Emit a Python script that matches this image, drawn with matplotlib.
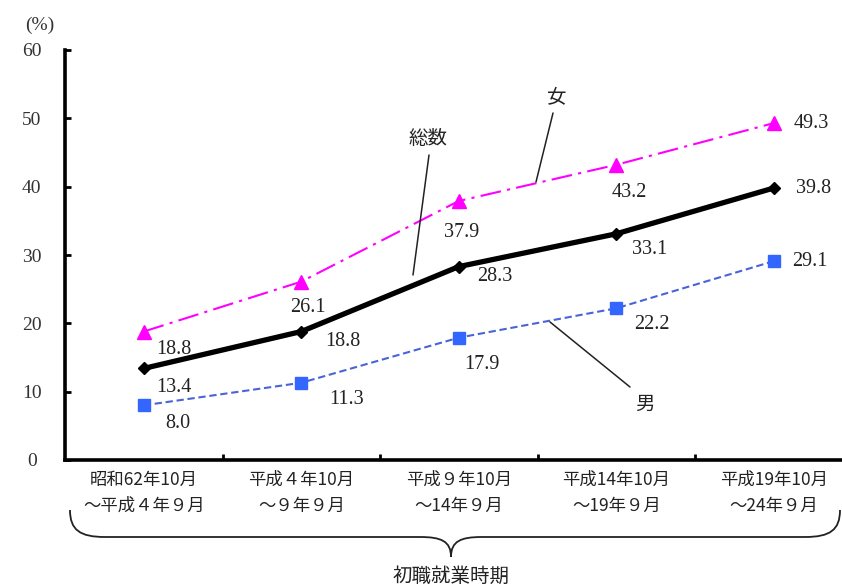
import matplotlib
matplotlib.use("Agg")
import matplotlib.pyplot as plt
from matplotlib.path import Path
from matplotlib.patches import PathPatch

plt.rcParams['font.family'] = ['Noto Sans CJK JP', 'DejaVu Sans']

# ---- data ----
categories = ["昭和62年10月\n～平成４年９月", "平成４年10月\n～９年９月", "平成９年10月\n～14年９月",
              "平成14年10月\n～19年９月", "平成19年10月\n～24年９月"]
total = [13.4, 18.8, 28.3, 33.1, 39.8]
female = [18.8, 26.1, 37.9, 43.2, 49.3]
male = [8.0, 11.3, 17.9, 22.2, 29.1]
yticks = [0, 10, 20, 30, 40, 50, 60]
xlabel = "初職就業時期"
series_names = ["総数", "女", "男"]

# label offsets in pixels (dx, dy)
off_female = [(30, -18), (7, -26), (3, -31), (13, -28), (38, 0)]
off_total = [(30, -19), (42, -10), (36, -10), (33, -16), (40, 0)]
off_male = [(34, -18), (45, -17), (23, -27), (36, -16), (36, 0)]

W, H = 842, 587
fig = plt.figure(figsize=(W / 100, H / 100), dpi=100)
left_px, right_px, top_px, bot_px = 65, 852.5, 50, 460
ax = fig.add_axes([left_px / W, 1 - bot_px / H, (right_px - left_px) / W, (bot_px - top_px) / H])

x = list(range(len(categories)))
serif = ['Liberation Serif', 'DejaVu Serif']
num_font = dict(family=serif, fontsize=14.5, color='#222222')

ax.plot(x, female, color='#FF00FF', lw=1.5, dashes=[10, 3, 1.5, 3], marker='^', ms=10,
        markeredgecolor='#FF00FF', markerfacecolor='#FF00FF', zorder=3)
ax.plot(x, total, color='black', lw=3.8, marker='D', ms=6, zorder=4)
ax.plot(x, male, color='#4A63D8', lw=1.5, dashes=[3.5, 1.8], marker='s', ms=9,
        markerfacecolor='#3366FF', markeredgecolor='#3366FF', zorder=3)

for vals, offs in ((female, off_female), (total, off_total), (male, off_male)):
    for xi, v, (dx, dy) in zip(x, vals, offs):
        ax.annotate(f"{v:.1f}", (xi, v), xytext=(dx, dy), textcoords='offset pixels',
                    ha='center', va='center', **num_font)

ax.set_xlim(-0.5, len(categories) - 0.5)
ax.set_ylim(0, 60)
ax.set_yticks(yticks)
ax.set_yticklabels([str(t) for t in yticks], family=serif, fontsize=14, color='#333333')
ax.set_xticks(x)
ax.set_xticklabels(categories, fontsize=12.5, linespacing=1.55, color='#222222')
ax.set_xticks([i + 0.5 for i in x[:-1]], minor=True)
ax.tick_params(axis='x', which='major', length=0, pad=8)
ax.tick_params(axis='x', which='minor', direction='in', length=4, width=2)
ax.tick_params(axis='y', direction='in', length=4, width=2, pad=24)
for lbl in ax.get_yticklabels():
    lbl.set_horizontalalignment('center')

for s in ('top', 'right'):
    ax.spines[s].set_visible(False)
for s in ('left', 'bottom'):
    ax.spines[s].set_linewidth(2.6)
    ax.spines[s].set_color('black')

# series name call-outs
def px2data(px, py):
    return ((px - left_px) / 157.5 - 0.5, (bot_px - py) / (bot_px - top_px) * 60)

callouts = [(series_names[0], (428, 138), (429, 155), (413, 275)),
            (series_names[1], (557, 97), (553, 113), (536, 182)),
            (series_names[2], (645, 404), (630, 387), (550, 322))]
for name, tpos, a, b in callouts:
    ax.text(*px2data(*tpos), name, fontsize=14, ha='center', va='center', color='#222222')
    ax.annotate("", xy=px2data(*b), xytext=px2data(*a),
                arrowprops=dict(arrowstyle='-', lw=1.1, color='#222222', shrinkA=0, shrinkB=0))

# brace under the x labels
def fp(px, py):
    return (px / W, 1 - py / H)

verts = [fp(70, 510), fp(70, 530), fp(80, 537), fp(105, 537),
         fp(420, 537),
         fp(441, 537), fp(451, 541), fp(451, 557),
         fp(451, 541), fp(461, 537), fp(482, 537),
         fp(805, 537),
         fp(830, 537), fp(840, 530), fp(840, 510)]
codes = [Path.MOVETO, Path.CURVE4, Path.CURVE4, Path.CURVE4,
         Path.LINETO,
         Path.CURVE4, Path.CURVE4, Path.CURVE4,
         Path.CURVE4, Path.CURVE4, Path.CURVE4,
         Path.LINETO,
         Path.CURVE4, Path.CURVE4, Path.CURVE4]
fig.add_artist(PathPatch(Path(verts, codes), facecolor='none', edgecolor='#222222', lw=1.3,
                         transform=fig.transFigure))

fig.text(451 / W, 1 - 576 / H, xlabel, fontsize=14, ha='center', va='center', color='#222222')
fig.text(40 / W, 1 - 25 / H, "(%)", fontsize=14, ha='center', va='center', color='#333333',
         family=serif)

fig.savefig("out.png", dpi=100)
